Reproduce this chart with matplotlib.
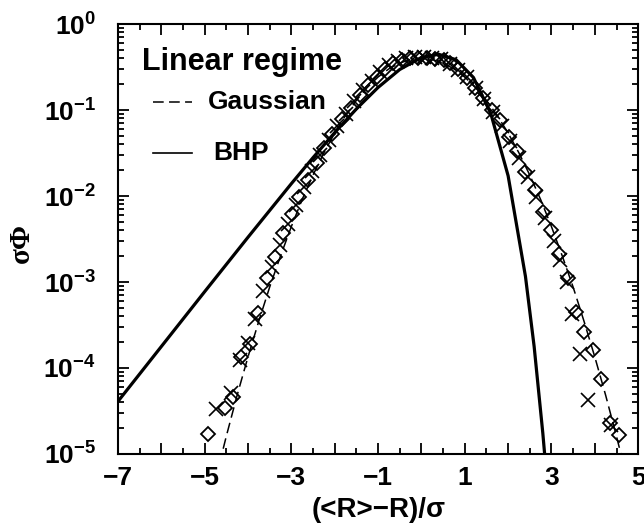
import matplotlib
matplotlib.use("Agg")
import matplotlib.pyplot as plt
from matplotlib.ticker import MultipleLocator, LogLocator, NullFormatter, FuncFormatter

plt.rcParams['font.family'] = ['Liberation Sans', 'DejaVu Sans']
plt.rcParams['font.weight'] = 'bold'
plt.rcParams['mathtext.fontset'] = 'custom'
plt.rcParams['mathtext.rm'] = 'Liberation Sans:bold'
plt.rcParams['mathtext.it'] = 'Liberation Sans:bold'
plt.rcParams['mathtext.bf'] = 'Liberation Sans:bold'
plt.rcParams['mathtext.default'] = 'rm'

# ---- data ----
# Gaussian (dashed)
gauss_x = [-4.75, -4.5, -4.25, -4.0, -3.75, -3.5, -3.25, -3.0, -2.75, -2.5, -2.25,
           -2.0, -1.75, -1.5, -1.25, -1.0, -0.75, -0.5, -0.25, 0.0, 0.25, 0.5,
           0.75, 1.0, 1.25, 1.5, 1.75, 2.0, 2.25, 2.5, 2.75, 3.0, 3.25, 3.5,
           3.75, 4.0, 4.25, 4.5, 4.75]
gauss_y = [5.0e-6, 1.6e-5, 4.8e-5, 1.34e-4, 3.5e-4, 8.7e-4, 2.0e-3, 4.4e-3, 9.1e-3,
           0.0175, 0.0317, 0.054, 0.0863, 0.1295, 0.1826, 0.242, 0.301, 0.352,
           0.387, 0.399, 0.387, 0.352, 0.301, 0.242, 0.1826, 0.1295, 0.0863,
           0.054, 0.0317, 0.0175, 9.1e-3, 4.4e-3, 2.0e-3, 8.7e-4, 3.5e-4,
           1.34e-4, 4.8e-5, 1.6e-5, 5.0e-6]

# BHP (solid)
bhp_x = [-7.0, -6.0, -5.0, -4.0, -3.0, -2.5, -2.0, -1.5, -1.0, -0.5, 0.0, 0.4,
         0.8, 1.2, 1.6, 2.0, 2.4, 2.6, 2.8, 2.85]
bhp_y = [4.07e-5, 1.77e-4, 7.7e-4, 3.31e-3, 0.0139, 0.0279, 0.0546, 0.103, 0.183,
         0.296, 0.408, 0.445, 0.385, 0.239, 0.0913, 0.0172, 1.16e-3, 1.78e-4,
         1.75e-5, 9.0e-6]

# diamonds
dia_x = [-4.92, -4.53, -4.34, -4.15, -3.95, -3.76, -3.57, -3.38, -3.19, -2.99,
         -2.82, -2.61, -2.41, -2.24, -2.05, -1.82, -1.63, -1.42, -1.22, -1.03,
         -0.84, -0.65, -0.45, -0.26, -0.07, 0.12, 0.32, 0.51, 0.66, 0.85, 1.05,
         1.24, 1.43, 1.62, 1.82, 2.01, 2.20, 2.40, 2.61, 2.80, 2.98, 3.18, 3.39,
         3.57, 3.76, 3.95, 4.15, 4.35, 4.55]
dia_y = [1.7e-5, 3.4e-5, 4.6e-5, 1.35e-4, 1.9e-4, 4.4e-4, 1.1e-3, 1.95e-3, 3.7e-3,
         6.2e-3, 9.8e-3, 0.0155, 0.024, 0.036, 0.052, 0.078, 0.105, 0.151, 0.195,
         0.245, 0.302, 0.355, 0.385, 0.400, 0.405, 0.405, 0.395, 0.38, 0.352,
         0.30, 0.234, 0.182, 0.138, 0.100, 0.076, 0.049, 0.033, 0.019, 0.0117,
         0.0066, 0.0040, 0.00214, 0.0011, 4.5e-4, 2.6e-4, 1.6e-4, 7.4e-5, 2.3e-5,
         1.66e-5]

# crosses
crs_x = [-4.74, -4.40, -4.18, -4.00, -3.83, -3.66, -3.45, -3.27, -3.08, -2.90,
         -2.71, -2.52, -2.33, -2.14, -1.95, -1.75, -1.55, -1.35, -1.15, -0.95,
         -0.75, -0.55, -0.35, -0.15, 0.05, 0.25, 0.45, 0.65, 0.85, 1.05, 1.25,
         1.45, 1.65, 1.85, 2.05, 2.25, 2.45, 2.65, 2.85, 3.05, 3.20, 3.35, 3.48,
         3.66, 3.85, 4.37]
crs_y = [3.3e-5, 5.1e-5, 1.23e-4, 1.95e-4, 3.7e-4, 7.8e-4, 1.5e-3, 2.7e-3, 4.7e-3,
         7.8e-3, 0.0126, 0.0195, 0.030, 0.045, 0.065, 0.091, 0.126, 0.17, 0.219,
         0.275, 0.331, 0.372, 0.398, 0.410, 0.412, 0.408, 0.389, 0.347, 0.295,
         0.24, 0.182, 0.135, 0.095, 0.066, 0.0437, 0.0275, 0.0166, 0.0098,
         0.0056, 0.0030, 0.00178, 0.0010, 4.3e-4, 1.45e-4, 4.2e-5, 2.2e-5]

# ---- figure ----
fig = plt.figure(figsize=(6.44, 5.23), dpi=100)
ax = fig.add_axes([0.183, 0.132, 0.808, 0.822])

ax.plot(gauss_x, gauss_y, color='black', lw=1.1, dashes=(7, 3.5), zorder=2)
ax.plot(bhp_x, bhp_y, color='black', lw=2.3, zorder=2)
ax.plot(dia_x, dia_y, ls='none', marker='D', ms=7.5, mfc='none', mec='black',
        mew=1.3, zorder=3)
ax.plot(crs_x, crs_y, ls='none', marker='x', ms=10.5, mec='black', mew=1.2, zorder=3)

ax.set_yscale('log')
ax.set_xlim(-7, 5)
ax.set_ylim(1e-5, 1)

# labels only on odd integers
ax.xaxis.set_major_locator(MultipleLocator(1))
ax.xaxis.set_minor_locator(MultipleLocator(0.5))
ax.xaxis.set_major_formatter(FuncFormatter(
    lambda v, p: ('%d' % round(v)).replace('-', '\u2212') if round(v) % 2 else ''))
ax.yaxis.set_major_locator(LogLocator(base=10, numticks=10))
ax.yaxis.set_minor_locator(LogLocator(base=10, subs=range(2, 10), numticks=20))
ax.yaxis.set_minor_formatter(NullFormatter())

ax.tick_params(which='both', direction='in', top=True, right=True, width=1.3,
               labelsize=19)
ax.tick_params(axis='x', which='major', pad=9)
ax.tick_params(axis='y', which='major', pad=16)
ax.tick_params(which='major', length=8)
ax.tick_params(which='minor', length=4)
for s in ax.spines.values():
    s.set_linewidth(1.5)

ax.set_xlabel('(<R>−R)/σ', fontsize=20, fontweight='bold')
ax.xaxis.set_label_coords(0.502, -0.1)
ax.set_ylabel('σΦ', fontsize=21, fontweight='bold',
              family=['Liberation Serif', 'DejaVu Serif'])
ax.yaxis.set_label_coords(-0.16, 0.49)

# legend drawn as text
ax.text(0.046, 0.893, 'Linear regime', transform=ax.transAxes, fontsize=22,
        fontweight='bold', va='baseline', ha='left')
ax.plot([0.067, 0.142], [0.818, 0.818], transform=ax.transAxes, color='black',
        lw=1.1, dashes=(7, 3.5))
ax.text(0.173, 0.818, 'Gaussian', transform=ax.transAxes, fontsize=19,
        fontweight='bold', va='center', ha='left')
ax.plot([0.067, 0.142], [0.70, 0.70], transform=ax.transAxes, color='black',
        lw=1.2)
ax.text(0.183, 0.70, 'BHP', transform=ax.transAxes, fontsize=19,
        fontweight='bold', va='center', ha='left')

fig.savefig('out.png', dpi=100)
